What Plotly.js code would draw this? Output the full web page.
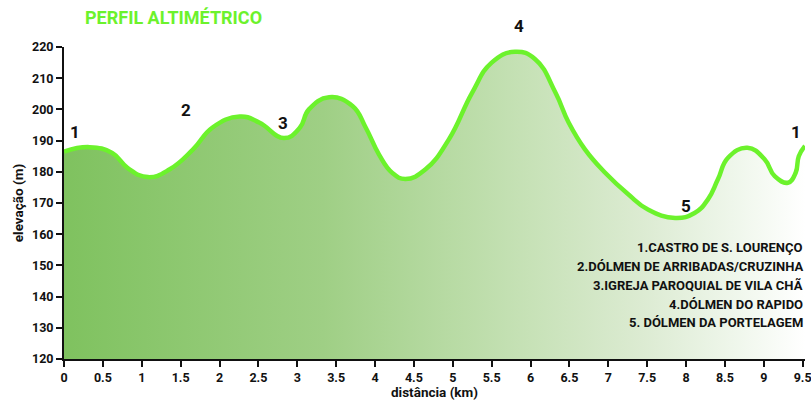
<!DOCTYPE html>
<html>
<head>
<meta charset="utf-8">
<script src="https://cdn.plot.ly/plotly-3.0.1.min.js"></script>
<style>html,body{margin:0;padding:0;background:#fff;}#chart{width:811px;height:400px;}</style>
</head>
<body>
<div id="chart"></div>
<script>
// distance (km) and elevation (m) read from the profile
const distanceKm = [0.0, 0.33, 0.62, 0.82, 1.08, 1.36, 1.66, 1.91, 2.26, 2.51, 2.83, 3.03, 3.15, 3.41, 3.71, 3.88, 4.05, 4.22, 4.39, 4.65, 4.95, 5.25, 5.50, 5.80, 6.06, 6.32, 6.49, 6.70, 6.96, 7.26, 7.51, 7.86, 8.11, 8.28, 8.41, 8.54, 8.79, 9.01, 9.14, 9.31, 9.41, 9.45, 9.53];
const elevationM = [186.5, 187.9, 186.0, 181.2, 178.3, 180.8, 187.2, 194.2, 197.7, 195.8, 190.8, 194.0, 200.0, 203.9, 201.1, 194.2, 185.6, 179.7, 177.7, 180.8, 190.4, 205.4, 215.0, 218.5, 216.1, 205.4, 195.8, 187.2, 179.7, 172.7, 167.9, 165.2, 166.8, 171.1, 177.6, 184.5, 187.7, 184.0, 178.6, 176.5, 179.7, 185.0, 188.3];

// point markers (number labels) on the profile
const markerLabels = ["1", "2", "3", "4", "5", "1"];
const markerX = [0.14, 1.57, 2.82, 5.85, 8.0, 9.41];
const markerY = [192.7, 199.7, 195.5, 226.8, 168.9, 192.7];

// landmark list
const landmarkNames = [
  "1.CASTRO DE S. LOURENÇO",
  "2.DÓLMEN DE ARRIBADAS/CRUZINHA",
  "3.IGREJA PAROQUIAL DE VILA CHÃ",
  "4.DÓLMEN DO RAPIDO",
  "5. DÓLMEN DA PORTELAGEM"
];
const landmarkY = [155.7, 149.6, 143.5, 137.4, 131.6];

const xTicks = [0, 0.5, 1, 1.5, 2, 2.5, 3, 3.5, 4, 4.5, 5, 5.5, 6, 6.5, 7, 7.5, 8, 8.5, 9, 9.5];
const yTicks = [120, 130, 140, 150, 160, 170, 180, 190, 200, 210, 220];

const FONT = "Roboto, 'DejaVu Sans', sans-serif";
const yMin = 120, yMax = 220;
const toPaper = v => (v - yMin) / (yMax - yMin);

const annotations = [];
markerLabels.forEach((t, i) => {
  annotations.push({
    text: t, x: markerX[i], xref: 'x', y: toPaper(markerY[i]), yref: 'paper',
    showarrow: false, xanchor: 'center', yanchor: 'middle',
    font: {family: FONT, size: 17, color: '#111', weight: 'bold'}
  });
});
landmarkNames.forEach((t, i) => {
  annotations.push({
    text: t, x: 1, xref: 'paper', y: toPaper(landmarkY[i]), yref: 'paper',
    showarrow: false, xanchor: 'right', yanchor: 'middle', align: 'right',
    font: {family: FONT, size: 13, color: '#111', weight: 'bold'}
  });
});

const trace = {
  x: distanceKm, y: elevationM, type: 'scatter', mode: 'lines',
  line: {shape: 'spline', smoothing: 1.3, simplify: false, color: '#6cf22c', width: 4.5},
  fill: 'tozeroy',
  fillgradient: {
    type: 'horizontal',
    colorscale: [[0, '#7fc25f'], [0.35, '#9fcf85'], [0.6, '#c3e0b2'], [0.78, '#dcebd2'], [0.9, '#eef6ea'], [1, '#ffffff']]
  },
  hoverinfo: 'skip'
};

const layout = {
  width: 811, height: 400,
  margin: {l: 64, r: 6, t: 47, b: 41},
  paper_bgcolor: '#fff', plot_bgcolor: '#fff',
  showlegend: false,
  title: {
    text: 'PERFIL ALTIMÉTRICO', x: 85/811, xanchor: 'left', y: 1 - 18/400, yanchor: 'middle',
    font: {family: FONT, size: 18, color: '#6cf22c', weight: 'bold'}
  },
  xaxis: {
    range: [0, 9.53], tickvals: xTicks, ticktext: xTicks.map(String),
    showgrid: false, zeroline: false,
    showline: true, linecolor: '#111', linewidth: 2,
    ticks: 'outside', ticklen: 6, tickwidth: 2, tickcolor: '#111',
    ticklabeloverflow: 'allow',
    tickfont: {family: FONT, size: 12.5, color: '#111', weight: 'bold'},
    title: {text: 'distância (km)', standoff: 3, font: {family: FONT, size: 13.5, color: '#111', weight: 'bold'}}
  },
  yaxis: {
    range: [yMin, yMax], tickvals: yTicks, ticktext: yTicks.map(String),
    showgrid: false, zeroline: false,
    showline: true, linecolor: '#111', linewidth: 2,
    ticks: 'outside', ticklen: 6, tickwidth: 2, tickcolor: '#111',
    tickfont: {family: FONT, size: 12.5, color: '#111', weight: 'bold'},
    title: {text: 'elevação (m)', standoff: 5, font: {family: FONT, size: 13.5, color: '#111', weight: 'bold'}}
  },
  annotations: annotations
};

Plotly.newPlot('chart', [trace], layout, {displayModeBar: false, staticPlot: true});
</script>
</body>
</html>
